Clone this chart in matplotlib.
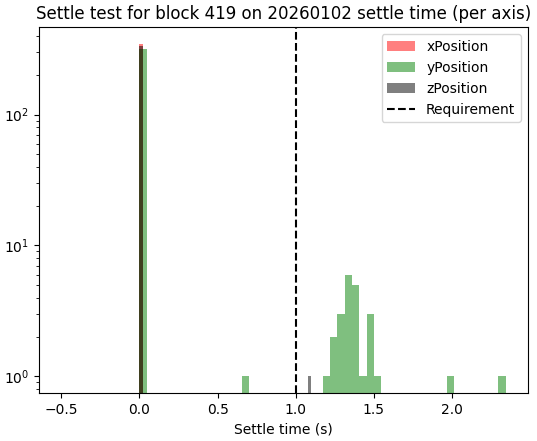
import matplotlib
matplotlib.use("Agg")
import matplotlib.pyplot as plt

# Settle-time samples (s) and their counts, per axis
x_values = [0.0]
x_counts = [347]

y_values = [0.0, 0.675, 1.195, 1.24, 1.29, 1.335, 1.38, 1.43, 1.475, 1.52, 1.99, 2.345]
y_counts = [320, 1, 1, 2, 3, 6, 5, 1, 3, 1, 1, 1]

z_values = [0.0, 1.10]
z_counts = [335, 1]

requirement = 1.0
title = "Settle test for block 419 on 20260102 settle time (per axis)"

fig, ax = plt.subplots(figsize=(5.37, 4.41), dpi=100)
ax.hist(x_values, bins=50, weights=x_counts, alpha=0.5, color="red", label="xPosition", log=True)
ax.hist(y_values, bins=50, weights=y_counts, alpha=0.5, color="green", label="yPosition", log=True)
ax.hist(z_values, bins=50, weights=z_counts, alpha=0.5, color="black", label="zPosition", log=True)
ax.axvline(requirement, color="black", linestyle="--", label="Requirement")
ax.set_xlabel("Settle time (s)")
ax.set_title(title)
ax.legend(loc="upper right")
fig.subplots_adjust(left=0.073, right=0.983, top=0.938, bottom=0.109)
fig.savefig("out.png", dpi=100)
